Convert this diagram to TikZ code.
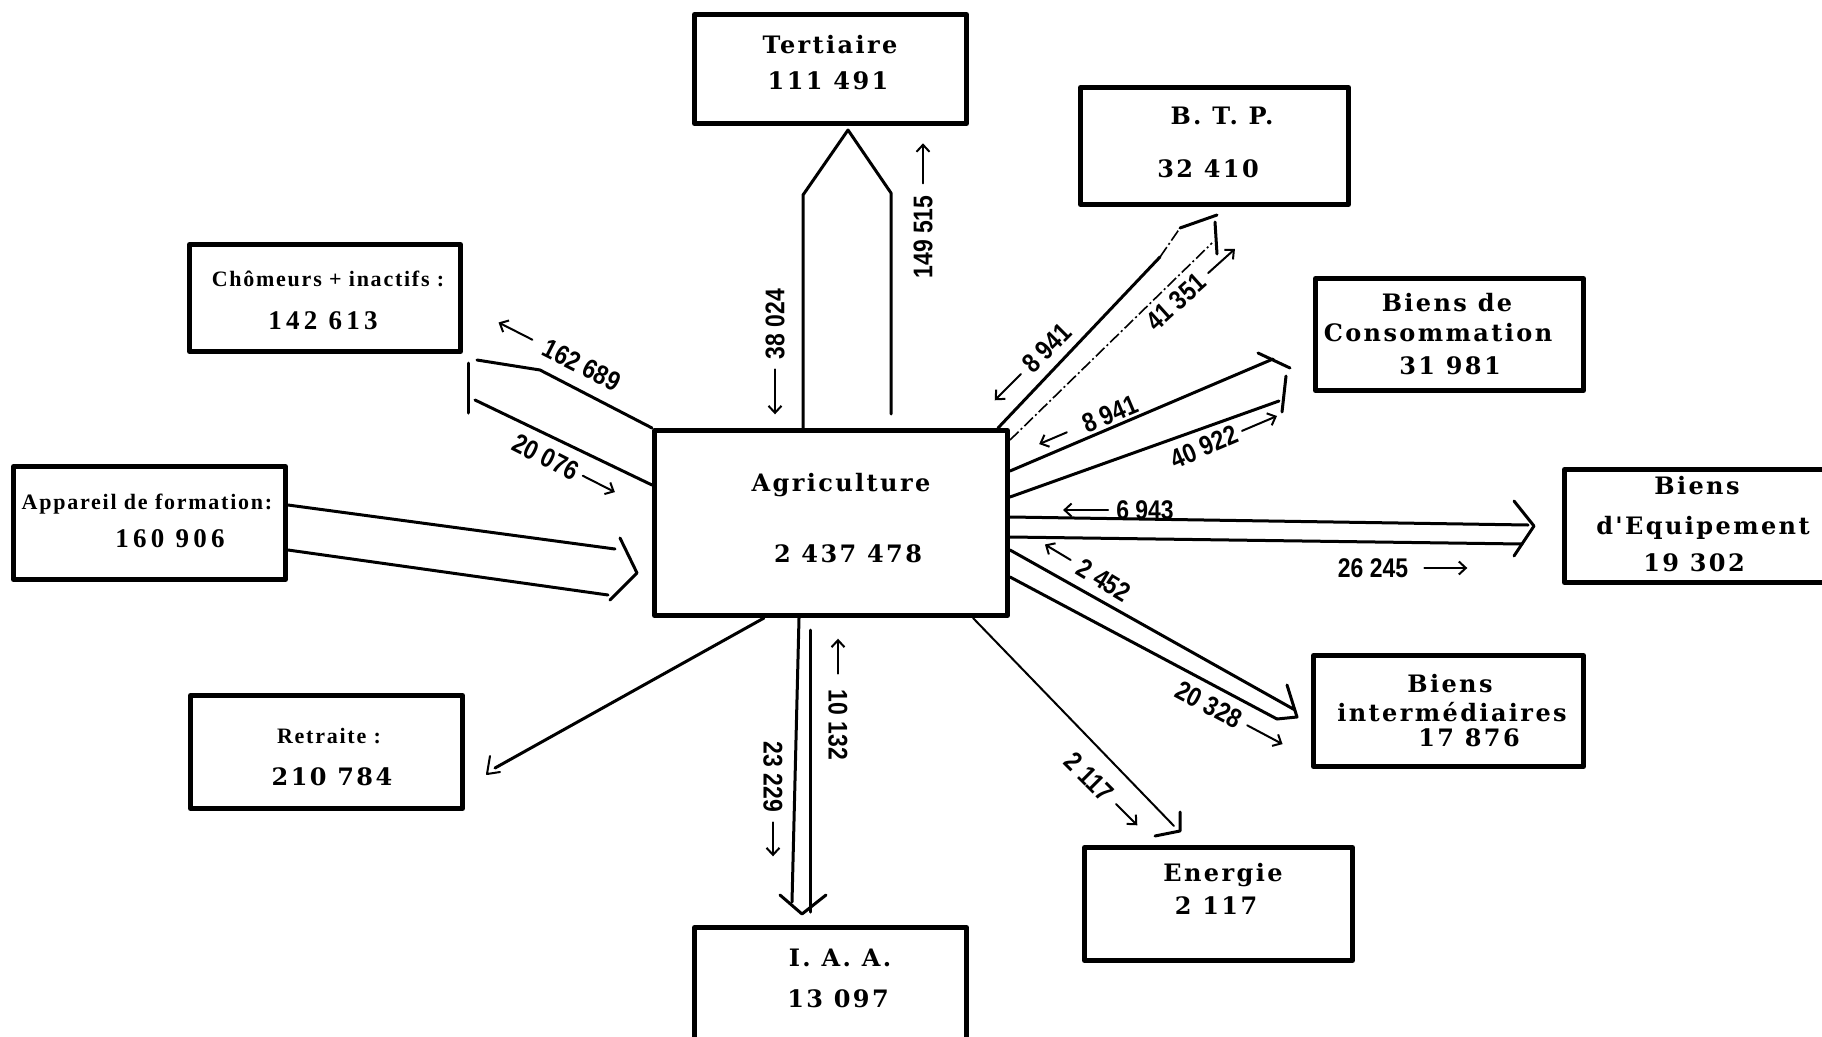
\documentclass[tikz,border=0pt]{standalone}
\usepackage{fontspec}
\usetikzlibrary{calc,arrows.meta}
\newfontfamily\boxfont[LetterSpace=10]{DejaVu Serif}
\newfontfamily\tagfont[LetterSpace=8]{Liberation Serif}
\newfontfamily\numfont[LetterSpace=16]{Liberation Serif}
\newfontfamily\flowfont[FakeStretch=0.85]{Liberation Sans}
% small direction arrow beside a flow value: before its first digit / after its last digit
\newcommand\arrowW[3]{\draw[ind] ($(#1.west)!-#2pt!(#1.east)$) -- ($(#1.west)!-#3pt!(#1.east)$);}
\newcommand\arrowE[3]{\draw[ind] ($(#1.east)!-#2pt!(#1.west)$) -- ($(#1.east)!-#3pt!(#1.west)$);}
\begin{document}
\begin{tikzpicture}[x=1pt,y=-1pt,
  box/.style={draw, line width=5pt, inner sep=0pt, line join=round},
  boxtxt/.style={anchor=base, inner sep=0pt, font={\boxfont\bfseries\fontsize{24}{28}\selectfont}},
  tagtxt/.style={anchor=base, inner sep=0pt, font={\tagfont\bfseries\fontsize{22}{26}\selectfont}},
  numtxt/.style={anchor=base, inner sep=0pt, font={\numfont\bfseries\fontsize{27}{30}\selectfont}},
  flow/.style={inner sep=0pt, font={\flowfont\bfseries\fontsize{27}{30}\selectfont}},
  ind/.style={line width=2pt, line cap=round, -{Straight Barb[length=7pt,width=13pt,line width=2pt]}},
  band/.style={line width=3pt, line cap=round, line join=round},
  thinband/.style={line width=2pt, line cap=round, line join=round},
  dashdot/.style={line width=1.6pt, dash pattern=on 12pt off 3pt on 2pt off 3pt}]

\fill[white] (0,0) rectangle (1822,1036);
\useasboundingbox (0,0) rectangle (1822,1036);
\clip (0,0) rectangle (1822,1036);

% ---------- sector boxes ----------
\node[box, minimum width=353pt, minimum height=185pt] (agr) at (831,523) {};
\node[box, minimum width=272pt, minimum height=109pt] (ter) at (830.5,69) {};
\node[box, minimum width=268pt, minimum height=117pt] (btp) at (1214.5,146) {};
\node[box, minimum width=271pt, minimum height=107pt] (cho) at (325,298) {};
\node[box, minimum width=268pt, minimum height=112pt] (bdc) at (1449.5,334.5) {};
\node[box, minimum width=272pt, minimum height=113pt] (app) at (149.5,523) {};
\node[box, minimum width=273pt, minimum height=113pt] (bde) at (1701,526) {};
\node[box, minimum width=270pt, minimum height=111pt] (bin) at (1448.5,711) {};
\node[box, minimum width=272pt, minimum height=113pt] (ret) at (326.5,752) {};
\node[box, minimum width=268pt, minimum height=113pt] (ene) at (1218.5,904) {};
\node[box, minimum width=272pt, minimum height=120pt] (iaa) at (830.5,987.5) {};

% ---------- box texts ----------
\node[boxtxt] (agrA) at (841,491) {Agriculture};
\node[boxtxt] (agrB) at (848,562) {2 437 478};
\node[boxtxt] (terA) at (830,53) {Tertiaire};
\node[boxtxt] (terB) at (828,89) {111 491};
\node[boxtxt] (btpA) at (1222,124) {B. T. P.};
\node[boxtxt] (btpB) at (1208,177) {32 410};
\node[boxtxt] (bdcA) at (1447,311) {Biens de};
\node[boxtxt] (bdcB) at (1438,341) {Consommation};
\node[boxtxt] (bdcC) at (1450,374) {31 981};
\node[boxtxt] (bdeA) at (1697,494) {Biens};
\node[boxtxt] (bdeB) at (1703,534) {d'Equipement};
\node[boxtxt] (bdeC) at (1694,571) {19 302};
\node[boxtxt] (binA) at (1450,692) {Biens};
\node[boxtxt] (binB) at (1452,721) {intermédiaires};
\node[boxtxt] (binC) at (1469,746) {17 876};
\node[boxtxt] (eneA) at (1223,881) {Energie};
\node[boxtxt] (eneB) at (1216,914) {2 117};
\node[boxtxt] (iaaA) at (840,966) {I. A. A.};
\node[boxtxt] (iaaB) at (838,1007) {13 097};
\node[tagtxt] (choA) at (328,286) {Chômeurs + inactifs :};
\node[numtxt] (choB) at (323,329) {142 613};
\node[tagtxt] (appA) at (147,509) {Appareil de formation:};
\node[numtxt] (appB) at (170,547) {160 906};
\node[tagtxt] (retA) at (329,743) {Retraite :};
\node[boxtxt] (retB) at (332,785) {210 784};

% ---------- flows: Tertiaire ----------
\coordinate (terL) at (803,195);
\coordinate (terTip) at (848,130);
\coordinate (terR) at (891,193);
\coordinate (terRb) at (891,414);
\draw[band] ([xshift=-28pt]agr.north) -- (terL) -- (terTip) -- (terR) -- (terRb);

% ---------- Chômeurs + inactifs ----------
\coordinate (choK) at (540,370);
\coordinate (choU) at (477,360);
\coordinate (choL) at (475,400);
\coordinate (choBarT) at (468,363);
\coordinate (choBarB) at (468,413);
\draw[band] (agr.north west) -- (choK) -- (choU);
\draw[band] ([yshift=38pt]agr.west) -- (choL);
\draw[band] (choBarT) -- (choBarB);

% ---------- Appareil de formation ----------
\coordinate (appU) at (615,549);
\coordinate (appD) at (608,595);
\coordinate (appH1) at (620,538);
\coordinate (appTip) at (637,573);
\coordinate (appH2) at (610,600);
\draw[band] ([yshift=18pt]app.east) -- (appU);
\draw[band] ([yshift=-27pt]app.east) -- (appD);
\draw[band] (appH1) -- (appTip) -- (appH2);

% ---------- Retraite ----------
\coordinate (retEnd) at (495,768);
\coordinate (retH1) at (490,756);
\coordinate (retTip) at (487,774);
\coordinate (retH2) at (500,772);
\draw[band] ([xshift=-67pt]agr.south) -- (retEnd);
\draw[thinband] (retH1) -- (retTip) -- (retH2);

% ---------- I.A.A. ----------
\coordinate (iaaL) at (792,902);
\coordinate (iaaRt) at (810,630);
\coordinate (iaaR) at (810,912);
\coordinate (iaaH1) at (780,895);
\coordinate (iaaTip) at (802,914);
\coordinate (iaaH2) at (826,895);
\draw[band] ([xshift=-32pt]agr.south) -- (iaaL);
\draw[band] (iaaRt) -- (iaaR);
\draw[band] (iaaH1) -- (iaaTip) -- (iaaH2);

% ---------- Energie ----------
\coordinate (eneEnd) at (1174,826);
\coordinate (eneH1) at (1180,812);
\coordinate (eneTip) at (1180,831);
\coordinate (eneH2) at (1155,836);
\draw[thinband] ([xshift=142pt]agr.south) -- (eneEnd);
\draw[band] (eneH1) -- (eneTip) -- (eneH2);

% ---------- Biens intermédiaires ----------
\coordinate (binU) at (1295,710);
\coordinate (binD) at (1277,719);
\coordinate (binH1) at (1287,685);
\coordinate (binTip) at (1297,717);
\draw[band] ([yshift=-27pt]agr.east) -- (binU);
\draw[band] ([yshift=-54pt]agr.east) -- (binD);
\draw[band] (binH1) -- (binTip) -- (binD);

% ---------- Biens d'Equipement ----------
\coordinate (bdeU) at (1528,525);
\coordinate (bdeD) at (1522,544);
\coordinate (bdeH1) at (1514,501);
\coordinate (bdeTip) at (1534,526);
\coordinate (bdeH2) at (1514,556);
\draw[band] ([yshift=6pt]agr.east) -- (bdeU);
\draw[band] ([yshift=-14pt]agr.east) -- (bdeD);
\draw[band] (bdeH1) -- (bdeTip) -- (bdeH2);

% ---------- Biens de Consommation ----------
\coordinate (bdcU) at (1273,359);
\coordinate (bdcD) at (1279,401);
\coordinate (bdcT1) at (1258,353);
\coordinate (bdcT2) at (1290,368);
\coordinate (bdcE1) at (1286,376);
\coordinate (bdcE2) at (1282,412);
\draw[band] ([yshift=52pt]agr.east) -- (bdcU);
\draw[band] ([yshift=26pt]agr.east) -- (bdcD);
\draw[band] (bdcT1) -- (bdcT2);
\draw[band] (bdcE1) -- (bdcE2);

% ---------- B.T.P. ----------
\coordinate (btpS) at (1160,257);
\coordinate (btpU) at (1180,228);
\coordinate (btpT) at (1217,215);
\coordinate (btpD) at (1212,243);
\coordinate (btpB1) at (1215,222);
\coordinate (btpB2) at (1217,254);
\draw[band] ([xshift=-12pt]agr.north east) -- (btpS);
\draw[dashdot] (btpS) -- (btpU);
\draw[band] (btpU) -- (btpT);
\draw[dashdot] ([yshift=-12pt]agr.north east) -- (btpD);
\draw[band] (btpB1) -- (btpB2);

% ---------- flow values ----------
\node[flow, rotate=90]  (f38024)  at (775,324)  {38 024};
\node[flow, rotate=90]  (f149515) at (923,237)  {149 515};
\node[flow, rotate=-27] (f162689) at (582,365)  {162 689};
\node[flow, rotate=-27] (f20076)  at (546,457)  {20 076};
\node[flow, rotate=45]  (f8941a)  at (1047,348) {8 941};
\node[flow, rotate=42]  (f41351)  at (1176,302) {41 351};
\node[flow, rotate=23]  (f8941b)  at (1110,414) {8 941};
\node[flow, rotate=23]  (f40922)  at (1204,447) {40 922};
\node[flow]             (f6943)   at (1145,510) {6 943};
\node[flow]             (f26245)  at (1373,568) {26 245};
\node[flow, rotate=-31] (f2452)   at (1104,580) {2 452};
\node[flow, rotate=-28] (f20328)  at (1209,705) {20 328};
\node[flow, rotate=-45] (f2117)   at (1089,777) {2 117};
\node[flow, rotate=-90] (f10132)  at (838,725)  {10 132};
\node[flow, rotate=-90] (f23229)  at (773,777)  {23 229};

% ---------- direction of each flow ----------
\arrowW{f38024}{10}{55}
\arrowE{f149515}{12}{52}
\arrowW{f162689}{14}{52}
\arrowE{f20076}{6}{42}
\arrowW{f8941a}{8}{45}
\arrowE{f41351}{8}{44}
\arrowW{f8941b}{18}{48}
\arrowE{f40922}{6}{44}
\arrowW{f6943}{8}{53}
\arrowE{f26245}{16}{59}
\arrowW{f2452}{10}{40}
\arrowE{f20328}{8}{48}
\arrowE{f2117}{10}{40}
\arrowW{f10132}{16}{51}
\arrowE{f23229}{10}{44}
\end{tikzpicture}
\end{document}
